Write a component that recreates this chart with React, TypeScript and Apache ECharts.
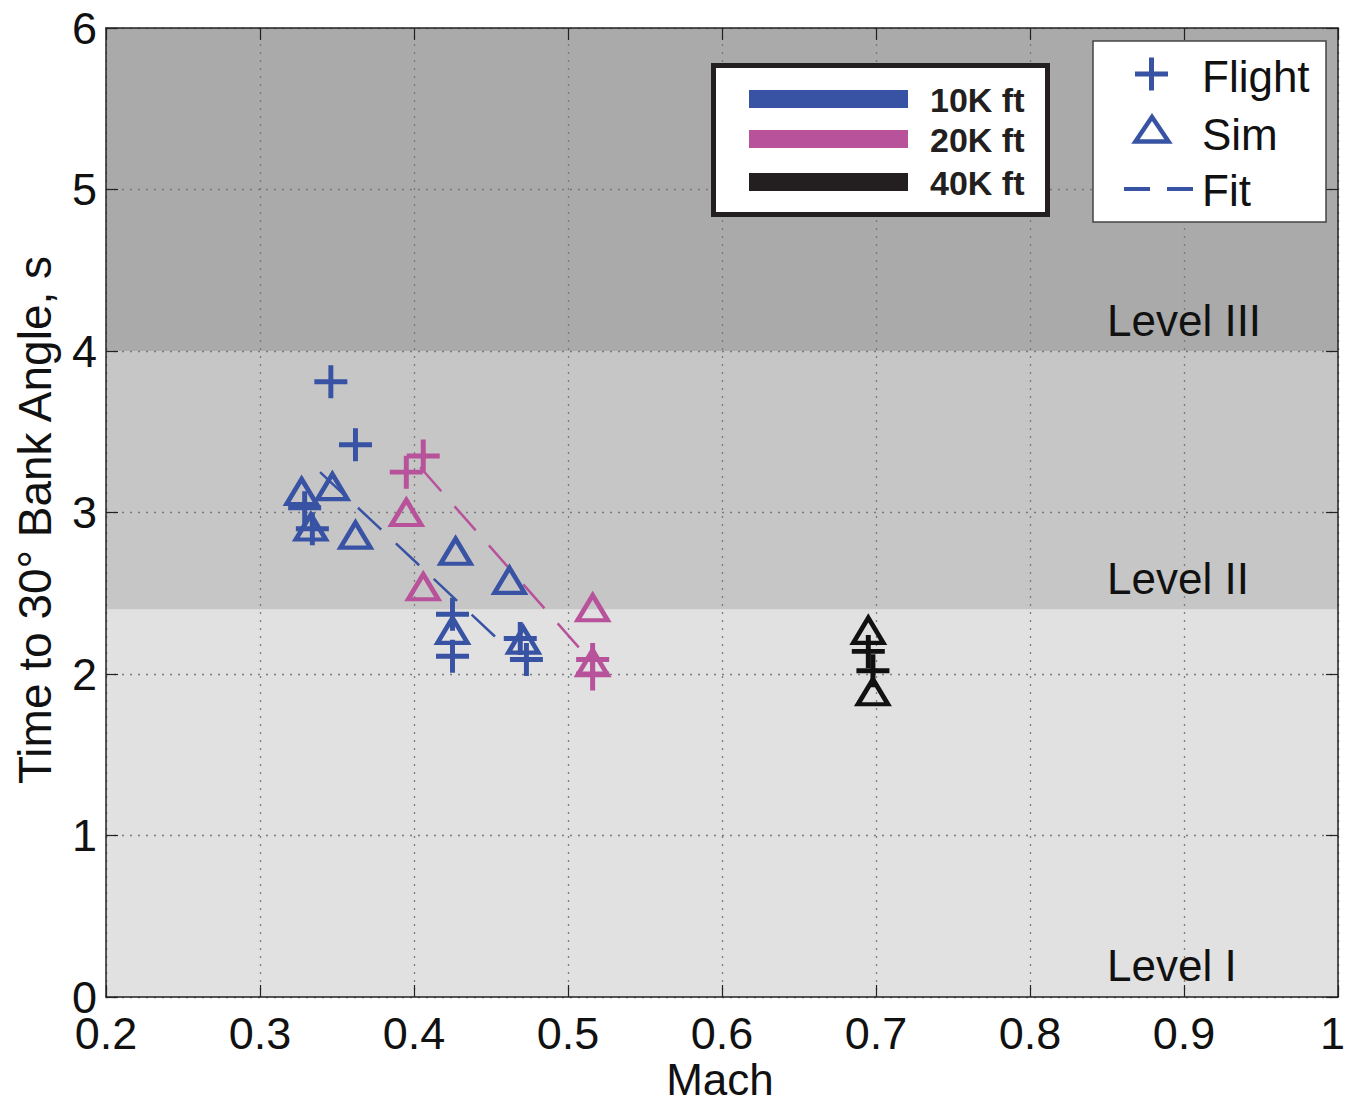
import React, { useEffect, useRef } from 'react';
import * as echarts from 'echarts';

// ---------- data ----------
const xTicks = [0.2, 0.3, 0.4, 0.5, 0.6, 0.7, 0.8, 0.9, 1];
const yTicks = [0, 1, 2, 3, 4, 5, 6];
const levelBounds = [0, 2.4, 4, 6];
const levelNames = ['Level I', 'Level II', 'Level III'];
const altitudeNames = ['10K ft', '20K ft', '40K ft'];
const markerNames = ['Flight', 'Sim', 'Fit'];
const xTitle = 'Mach';
const yTitle = 'Time to 30° Bank Angle, s';

// 10K ft
const flight10K: [number, number][] = [
  [0.346, 3.81], [0.362, 3.42], [0.329, 3.03], [0.334, 2.9],
  [0.425, 2.37], [0.425, 2.11], [0.469, 2.22], [0.473, 2.09],
];
const sim10K: [number, number][] = [
  [0.327, 3.13], [0.333, 2.91], [0.347, 3.16], [0.362, 2.86],
  [0.427, 2.76], [0.462, 2.58], [0.425, 2.27], [0.471, 2.21],
];
const fit10K: [number, number][] = [[0.339, 3.25], [0.464, 2.13]];

// 20K ft
const flight20K: [number, number][] = [
  [0.395, 3.25], [0.406, 3.35], [0.516, 2.09], [0.516, 2.0],
];
const sim20K: [number, number][] = [
  [0.395, 3.0], [0.406, 2.54], [0.516, 2.41], [0.516, 2.07],
];
const fit20K: [number, number][] = [[0.404, 3.28], [0.513, 2.1]];

// 40K ft
const flight40K: [number, number][] = [[0.695, 2.14], [0.698, 2.02]];
const sim40K: [number, number][] = [[0.695, 2.27], [0.698, 1.89]];

// ---------- styles ----------
const BLUE = '#3953a4';
const PINK = '#b8529b';
const BLACK = '#111111';
const BAND_COLORS = ['#e1e1e1', '#c6c6c6', '#aaaaaa'];
const FONT = '"Liberation Sans", Arial, Helvetica, sans-serif';
const PLUS =
  'path://M-1,-0.15L-0.15,-0.15L-0.15,-1L0.15,-1L0.15,-0.15L1,-0.15L1,0.15L0.15,0.15L0.15,1L-0.15,1L-0.15,0.15L-1,0.15Z';

function flightSeries(name: string, data: [number, number][], color: string) {
  return {
    name,
    type: 'scatter',
    data,
    symbol: PLUS,
    symbolSize: 33,
    itemStyle: { color, opacity: 1 },
    z: 4,
  };
}
function simSeries(name: string, data: [number, number][], color: string) {
  return {
    name,
    type: 'scatter',
    data,
    symbol: 'triangle',
    symbolSize: [30, 25],
    itemStyle: { color: 'rgba(0,0,0,0)', borderColor: color, borderWidth: 4.5, opacity: 1 },
    z: 4,
  };
}
function fitSeries(name: string, data: [number, number][], color: string) {
  return {
    name,
    type: 'line',
    data,
    showSymbol: false,
    symbol: 'none',
    lineStyle: { color, width: 2.5, type: [32, 20] },
    z: 3,
  };
}

export default function App() {
  const ref = useRef<HTMLDivElement>(null);
  useEffect(() => {
    document.body.style.margin = '0';
    document.documentElement.style.overflow = 'hidden';
    const chart = echarts.init(ref.current!, null, { renderer: 'svg' });

    const altColors = ['#3953a4', '#b8529b', '#231f20'];
    const graphic: any[] = [];
    // axis titles
    graphic.push({
      type: 'text',
      x: 35,
      y: 520,
      rotation: Math.PI / 2,
      style: {
        text: yTitle,
        font: `46px ${FONT}`,
        fill: '#111111',
        align: 'center',
        verticalAlign: 'middle',
      },
      z: 50,
    });
    graphic.push({
      type: 'text',
      x: 720,
      y: 1079,
      style: {
        text: xTitle,
        font: `44px ${FONT}`,
        fill: '#111111',
        align: 'center',
        verticalAlign: 'middle',
      },
      z: 50,
    });
    // legend 1 (altitudes)
    graphic.push({
      type: 'rect',
      shape: { x: 713.5, y: 65.5, width: 334, height: 149 },
      style: { fill: '#ffffff', stroke: '#231f20', lineWidth: 5 },
      z: 100,
    });
    const lineYs = [99, 139, 182];
    altitudeNames.forEach((n, i) => {
      graphic.push({
        type: 'rect',
        shape: { x: 749, y: lineYs[i] - 9, width: 159, height: 18 },
        style: { fill: altColors[i] },
        z: 101,
      });
      graphic.push({
        type: 'text',
        x: 930,
        y: lineYs[i] + 1,
        style: {
          text: n,
          font: `bold 34px ${FONT}`,
          fill: '#231f20',
          align: 'left',
          verticalAlign: 'middle',
        },
        z: 101,
      });
    });
    // legend 2 (marker types)
    graphic.push({
      type: 'rect',
      shape: { x: 1093, y: 41, width: 233, height: 181 },
      style: { fill: '#ffffff', stroke: '#444444', lineWidth: 1.5 },
      z: 100,
    });
    graphic.push({
      type: 'line',
      shape: { x1: 1135, y1: 74, x2: 1168, y2: 74 },
      style: { stroke: BLUE, lineWidth: 5 },
      z: 101,
    });
    graphic.push({
      type: 'line',
      shape: { x1: 1151.5, y1: 57.5, x2: 1151.5, y2: 90.5 },
      style: { stroke: BLUE, lineWidth: 5 },
      z: 101,
    });
    graphic.push({
      type: 'polygon',
      shape: { points: [[1152, 117], [1135.5, 141.5], [1168.5, 141.5]] },
      style: { fill: 'none', stroke: BLUE, lineWidth: 4.5, lineJoin: 'miter' },
      z: 101,
    });
    graphic.push({
      type: 'line',
      shape: { x1: 1124, y1: 189, x2: 1193, y2: 189 },
      style: { stroke: BLUE, lineWidth: 4, lineDash: [26, 17] },
      z: 101,
    });
    const legend2Ys = [76, 134, 190];
    markerNames.forEach((n, i) => {
      graphic.push({
        type: 'text',
        x: 1202,
        y: legend2Ys[i],
        style: {
          text: n,
          font: `44px ${FONT}`,
          fill: '#111111',
          align: 'left',
          verticalAlign: 'middle',
        },
        z: 101,
      });
    });
    // level labels
    const levelLabelYs = [965, 578, 320];
    levelNames.forEach((n, i) => {
      graphic.push({
        type: 'text',
        x: 1107,
        y: levelLabelYs[i],
        style: {
          text: n,
          font: `44px ${FONT}`,
          fill: '#111111',
          align: 'left',
          verticalAlign: 'middle',
        },
        z: 50,
      });
    });

    const bandData = levelNames.map((n, i) => [
      { yAxis: levelBounds[i], itemStyle: { color: BAND_COLORS[i] } },
      { yAxis: levelBounds[i + 1] },
    ]);

    const tickStyle = { show: true, inside: true, length: 12, lineStyle: { color: '#222', width: 1.2 } };
    const lineStyle = { show: true, onZero: false, lineStyle: { color: '#222', width: 1.5 } };
    const gridLine = { show: true, lineStyle: { color: '#7a7a7a', width: 1.3, type: [2, 6] } };
    const xMax = xTicks[xTicks.length - 1];

    const option: any = {
      animation: false,
      backgroundColor: '#ffffff',
      textStyle: { fontFamily: FONT },
      grid: {
        left: 106,
        right: 7,
        top: 28,
        bottom: 106,
        containLabel: false,
        outerBoundsMode: 'none',
      },
      xAxis: [
        {
          type: 'value',
          min: xTicks[0],
          max: xMax,
          interval: 0.1,
          axisLine: lineStyle,
          axisTick: tickStyle,
          axisLabel: {
            fontSize: 45,
            lineHeight: 34,
            color: '#111',
            margin: 19,
            fontFamily: FONT,
            formatter: (v: number) => {
              const s = String(Math.round(v * 10) / 10);
              return Math.abs(v - xMax) < 1e-9 ? `{last|${s}}` : s;
            },
            rich: {
              last: {
                fontSize: 45,
                lineHeight: 34,
                color: '#111',
                fontFamily: FONT,
                padding: [0, 11, 0, 0],
              },
            },
          },
          splitLine: gridLine,
        },
        {
          type: 'value',
          position: 'top',
          min: xTicks[0],
          max: xMax,
          interval: 0.1,
          axisLine: lineStyle,
          axisTick: tickStyle,
          axisLabel: { show: false },
          splitLine: { show: false },
        },
      ],
      yAxis: [
        {
          type: 'value',
          min: yTicks[0],
          max: yTicks[yTicks.length - 1],
          interval: 1,
          axisLine: lineStyle,
          axisTick: tickStyle,
          axisLabel: { fontSize: 45, lineHeight: 34, color: '#111', margin: 9, fontFamily: FONT },
          splitLine: gridLine,
        },
        {
          type: 'value',
          position: 'right',
          min: yTicks[0],
          max: yTicks[yTicks.length - 1],
          interval: 1,
          axisLine: lineStyle,
          axisTick: tickStyle,
          axisLabel: { show: false },
          splitLine: { show: false },
        },
      ],
      graphic,
      series: [
        {
          name: 'bands',
          type: 'scatter',
          data: [],
          z: -2,
          silent: true,
          markArea: { silent: true, z: -2, label: { show: false }, data: bandData },
        },
        fitSeries('Fit 10K ft', fit10K, BLUE),
        fitSeries('Fit 20K ft', fit20K, PINK),
        flightSeries('Flight 10K ft', flight10K, BLUE),
        flightSeries('Flight 20K ft', flight20K, PINK),
        flightSeries('Flight 40K ft', flight40K, BLACK),
        simSeries('Sim 10K ft', sim10K, BLUE),
        simSeries('Sim 20K ft', sim20K, PINK),
        simSeries('Sim 40K ft', sim40K, BLACK),
      ],
    };
    chart.setOption(option);
    return () => chart.dispose();
  }, []);
  return (
    <div
      ref={ref}
      style={{ position: 'fixed', left: 0, top: 0, width: 1345, height: 1103 }}
    />
  );
}
